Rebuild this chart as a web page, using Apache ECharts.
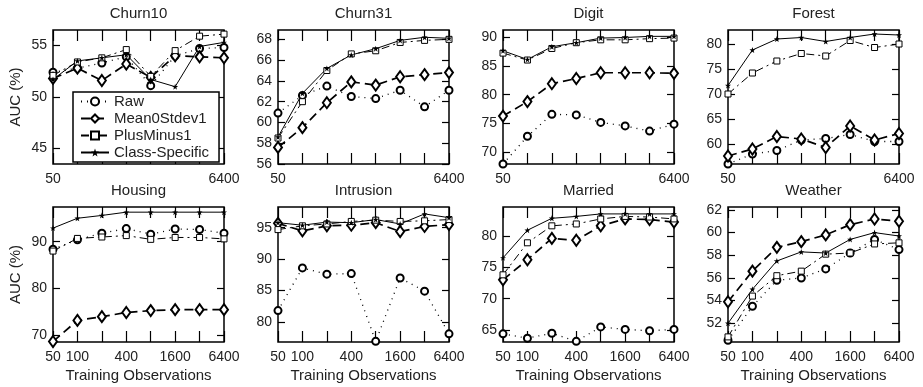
<!DOCTYPE html>
<html>
<head>
<meta charset="utf-8">
<script src="https://cdn.jsdelivr.net/npm/echarts@6/dist/echarts.min.js"></script>
<style>
  html, body { margin: 0; padding: 0; background: #fff; }
  #chart { width: 923px; height: 387px; }
</style>
</head>
<body>
<div id="chart"></div>
<script>
// training set sizes (log2 spaced)
const xLabels = ['50', '100', '200', '400', '800', '1600', '3200', '6400'];
const topRowLabels = ['50', '6400'];
const bottomRowLabels = ['50', '100', '400', '1600', '6400'];

const panels = ['Churn10', 'Churn31', 'Digit', 'Forest', 'Housing', 'Intrusion', 'Married', 'Weather'];

// AUC (%) per panel, one row per panel in the order above
const raw = [
  [52.4, 52.8, 53.3, 53.9, 51.1, 54.0, 54.7, 54.8],
  [60.9, 62.6, 63.5, 62.5, 62.3, 63.1, 61.5, 63.1],
  [68.0, 72.8, 76.6, 76.5, 75.2, 74.6, 73.7, 74.9],
  [56.0, 58.0, 58.7, 60.8, 61.1, 61.9, 60.5, 60.5],
  [88.4, 90.4, 91.8, 92.8, 91.6, 92.7, 92.6, 91.8],
  [81.8, 88.6, 87.6, 87.7, 76.9, 87.0, 84.9, 78.1],
  [64.4, 63.7, 64.5, 63.2, 65.5, 65.1, 64.9, 65.1],
  [50.5, 53.5, 55.8, 56.0, 56.8, 58.2, 59.4, 58.5]
];
const mean0Stdev1 = [
  [51.8, 52.8, 51.6, 53.2, 51.9, 54.0, 53.9, 53.8],
  [57.6, 59.5, 61.9, 63.9, 63.6, 64.4, 64.6, 64.8],
  [76.3, 78.8, 81.9, 82.8, 83.8, 83.8, 83.8, 83.7],
  [57.6, 59.0, 61.5, 61.0, 59.3, 63.6, 60.8, 62.1],
  [68.7, 73.2, 74.0, 74.9, 75.3, 75.5, 75.5, 75.5],
  [95.7, 94.5, 95.3, 95.4, 95.8, 94.4, 95.2, 95.5],
  [73.0, 76.2, 79.6, 79.3, 81.6, 82.7, 82.6, 82.2],
  [53.9, 56.6, 58.7, 59.2, 59.8, 60.7, 61.2, 61.0]
];
const plusMinus1 = [
  [52.1, 53.4, 53.8, 54.6, 52.0, 54.5, 55.9, 56.1],
  [58.5, 62.0, 65.0, 66.6, 66.9, 67.7, 67.9, 68.0],
  [87.2, 86.0, 88.0, 89.0, 89.5, 89.5, 89.7, 89.8],
  [70.0, 74.2, 76.6, 78.1, 77.6, 80.7, 79.3, 80.0],
  [88.0, 90.7, 91.0, 91.3, 90.5, 90.9, 90.9, 90.6],
  [94.7, 95.3, 95.6, 96.0, 96.2, 96.0, 96.1, 96.3],
  [73.8, 78.9, 81.6, 81.9, 82.7, 83.1, 83.0, 82.7],
  [50.8, 54.4, 56.2, 56.6, 58.1, 58.2, 59.0, 59.1]
];
const classSpecific = [
  [51.7, 53.5, 53.8, 54.1, 51.7, 51.0, 54.9, 55.3],
  [58.6, 62.8, 65.2, 66.5, 67.1, 67.9, 68.2, 68.1],
  [87.6, 86.1, 88.3, 89.0, 89.8, 89.9, 90.1, 90.1],
  [71.7, 78.8, 81.0, 81.3, 80.5, 81.3, 82.0, 81.8],
  [92.9, 95.0, 95.6, 96.3, 96.3, 96.3, 96.3, 96.3],
  [95.8, 95.4, 95.9, 95.8, 96.3, 95.6, 97.2, 96.6],
  [76.5, 80.9, 82.8, 83.1, 83.5, 83.5, 83.5, 83.5],
  [52.0, 55.0, 57.5, 58.3, 58.2, 59.4, 60.0, 59.7]
];

const yTicks = [
  [45, 50, 55],
  [56, 58, 60, 62, 64, 66, 68],
  [70, 75, 80, 85, 90],
  [60, 65, 70, 75, 80],
  [70, 80, 90],
  [80, 85, 90, 95],
  [65, 70, 75, 80],
  [52, 54, 56, 58, 60, 62]
];
const yMin = [43.5, 56, 68, 56, 68.6, 76.8, 63.1, 50.35];
const yMax = [56.5, 68.9, 91.2, 82.8, 97.4, 98.3, 84.6, 62.26];

const methods = [
  { name: 'Raw', data: raw },
  { name: 'Mean0Stdev1', data: mean0Stdev1 },
  { name: 'PlusMinus1', data: plusMinus1 },
  { name: 'Class-Specific', data: classSpecific }
];

const font = 'Liberation Sans, Arial, sans-serif';
const ink = '#222';
const starPath = 'path://M0,-10L2.4,-3.1L9.5,-3.1L3.8,1.2L5.9,8.1L0,4L-5.9,8.1L-3.8,1.2L-9.5,-3.1L-2.4,-3.1Z';

const styles = {
  'Raw': {
    symbol: 'circle', symbolSize: 7,
    itemStyle: { color: '#fff', borderColor: '#000', borderWidth: 2 },
    lineStyle: { color: '#000', width: 1.3, type: [1, 5] }
  },
  'Mean0Stdev1': {
    symbol: 'diamond', symbolSize: [8, 11],
    itemStyle: { color: '#fff', borderColor: '#000', borderWidth: 2 },
    lineStyle: { color: '#000', width: 1.7, type: [9, 5] }
  },
  'PlusMinus1': {
    symbol: 'rect', symbolSize: 6,
    itemStyle: { color: '#fff', borderColor: '#000', borderWidth: 1 },
    lineStyle: { color: '#000', width: 1, type: [8, 4, 2, 4] }
  },
  'Class-Specific': {
    symbol: starPath, symbolSize: 6,
    itemStyle: { color: '#000', borderWidth: 0 },
    lineStyle: { color: '#000', width: 1, type: 'solid' }
  }
};

const colLeft = [53, 278, 503, 728];
const grids = [], xAxes = [], yAxes = [], titles = [], series = [];

panels.forEach((p, i) => {
  const row = Math.floor(i / 4), col = i % 4;
  const top = row === 0 ? 30 : 207;
  const height = row === 0 ? 134 : 135;
  grids.push({
    left: colLeft[col], top: top, width: 171, height: height,
    show: true, borderColor: '#000', borderWidth: 1.5
  });
  titles.push({
    text: p,
    left: colLeft[col] + 85.5, top: row === 0 ? 6 : 183,
    textAlign: 'center', padding: 0,
    textStyle: { fontFamily: font, fontSize: 15, fontWeight: 'normal', color: ink }
  });
  const shown = row === 0 ? topRowLabels : bottomRowLabels;
  xAxes.push({
    type: 'category', gridIndex: i, data: xLabels, boundaryGap: false,
    axisLine: { show: false },
    axisTick: { show: true, inside: true, length: 11, interval: 0, lineStyle: { color: '#000', width: 1.2 } },
    axisLabel: {
      interval: 0, margin: 8, color: ink, fontFamily: font, fontSize: 14,
      formatter: v => shown.includes(v) ? v : ''
    },
    splitLine: { show: false },
    name: row === 1 ? 'Training Observations' : '',
    nameLocation: 'middle', nameGap: 26,
    nameTextStyle: { fontFamily: font, fontSize: 15, color: ink }
  });
  xAxes.push({
    type: 'category', gridIndex: i, data: xLabels, boundaryGap: false, position: 'top',
    axisLine: { show: false },
    axisTick: { show: true, inside: true, length: 11, interval: 0, lineStyle: { color: '#000', width: 1.2 } },
    axisLabel: { show: false },
    splitLine: { show: false }
  });
  yAxes.push({
    type: 'value', gridIndex: i, min: yMin[i], max: yMax[i],
    axisLine: { show: false },
    axisTick: { show: true, inside: true, length: 7, customValues: yTicks[i], lineStyle: { color: '#000', width: 1.2 } },
    axisLabel: { customValues: yTicks[i], margin: 6, color: ink, fontFamily: font, fontSize: 14 },
    splitLine: { show: false },
    name: col === 0 ? 'AUC (%)' : '',
    nameLocation: 'middle', nameGap: 30,
    nameTextStyle: { fontFamily: font, fontSize: 15, color: ink }
  });
  yAxes.push({
    type: 'value', gridIndex: i, min: yMin[i], max: yMax[i], position: 'right',
    axisLine: { show: false },
    axisTick: { show: true, inside: true, length: 7, customValues: yTicks[i], lineStyle: { color: '#000', width: 1.2 } },
    axisLabel: { show: false },
    splitLine: { show: false }
  });
  methods.forEach(m => {
    const s = styles[m.name];
    series.push({
      name: m.name, type: 'line',
      xAxisIndex: 2 * i, yAxisIndex: 2 * i,
      data: m.data[i],
      symbol: s.symbol, symbolSize: s.symbolSize,
      showAllSymbol: true,
      itemStyle: s.itemStyle, lineStyle: s.lineStyle,
      animation: false
    });
  });
});

const chart = echarts.init(document.getElementById('chart'));
chart.setOption({
  animation: false,
  backgroundColor: '#fff',
  title: titles,
  grid: grids,
  xAxis: xAxes,
  yAxis: yAxes,
  legend: {
    data: methods.map(m => m.name),
    orient: 'vertical',
    left: 73, top: 92,
    backgroundColor: '#fff', borderColor: '#000', borderWidth: 1.5,
    padding: [2, 10, 2, 7],
    itemGap: 2, itemWidth: 28, itemHeight: 10,
    selectedMode: false,
    textStyle: { fontFamily: font, fontSize: 15, color: ink },
    z: 10
  },
  series: series
});
</script>
</body>
</html>
